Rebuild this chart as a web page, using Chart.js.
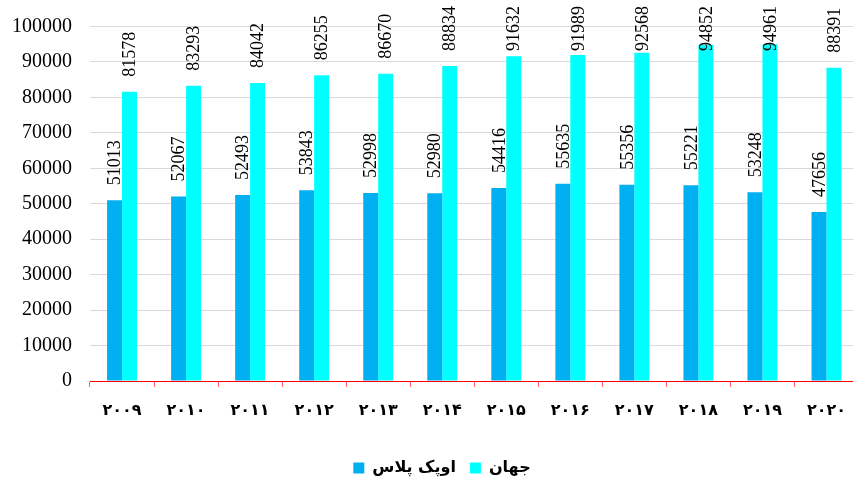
<!DOCTYPE html>
<html>
<head>
<meta charset="utf-8">
<script src="https://cdn.jsdelivr.net/npm/chart.js@4/dist/chart.umd.min.js"></script>
<style>
  html, body { margin: 0; padding: 0; background: #ffffff; overflow: hidden; }
  #wrap { width: 853px; height: 479px; overflow: hidden; }
  #c { display: block; }
</style>
</head>
<body>
<div id="wrap"><canvas id="c" width="860" height="479"></canvas></div>
<script>
// Years shown on the category axis (Persian digits)
const years = ['۲۰۰۹', '۲۰۱۰', '۲۰۱۱', '۲۰۱۲', '۲۰۱۳', '۲۰۱۴', '۲۰۱۵', '۲۰۱۶', '۲۰۱۷', '۲۰۱۸', '۲۰۱۹', '۲۰۲۰'];

// Series names
const opecPlusName = 'اوپک پلاس';
const worldName = 'جهان';

// Series values
const opecPlus = [51013, 52067, 52493, 53843, 52998, 52980, 54416, 55635, 55356, 55221, 53248, 47656];
const world = [81578, 83293, 84042, 86255, 86670, 88834, 91632, 91989, 92568, 94852, 94961, 88391];

// Value axis
const yMin = 0;
const yMax = 100000;
const yStep = 10000;

// Vertical value labels above each bar, kept inside the canvas at the top
const barValueLabels = {
  id: 'barValueLabels',
  afterDatasetsDraw(chart) {
    const ctx = chart.ctx;
    ctx.save();
    ctx.font = '18px "Liberation Serif"';
    ctx.fillStyle = '#000000';
    ctx.textAlign = 'left';
    ctx.textBaseline = 'middle';
    chart.data.datasets.forEach((ds, di) => {
      const meta = chart.getDatasetMeta(di);
      meta.data.forEach((bar, i) => {
        const text = String(ds.data[i]);
        const w = ctx.measureText(text).width;
        let bottom = bar.y - 15;
        if (bottom - w < 6) bottom = 6 + w;
        ctx.save();
        ctx.translate(bar.x, bottom);
        ctx.rotate(-Math.PI / 2);
        ctx.fillText(text, 0, 1);
        ctx.restore();
      });
    });
    ctx.restore();
  }
};

// Nudge the legend box a little lower and to the right
const legendOffset = {
  id: 'legendOffset',
  afterLayout(chart) {
    const lg = chart.legend;
    if (!lg) return;
    const dx = 12, dy = 7;
    lg.left += dx; lg.right += dx;
    lg.top += dy; lg.bottom += dy;
  }
};

new Chart(document.getElementById('c'), {
  type: 'bar',
  data: {
    labels: years,
    datasets: [
      {
        label: opecPlusName,
        data: opecPlus,
        backgroundColor: '#00b0f0',
        categoryPercentage: 0.467,
        barPercentage: 1.0
      },
      {
        label: worldName,
        data: world,
        backgroundColor: '#00ffff',
        categoryPercentage: 0.467,
        barPercentage: 1.0
      }
    ]
  },
  options: {
    responsive: false,
    animation: false,
    devicePixelRatio: 1,
    layout: { padding: { left: 0, right: 0, top: 10, bottom: 0 } },
    plugins: {
      legend: {
        position: 'bottom',
        labels: {
          boxWidth: 11,
          boxHeight: 11,
          padding: 14,
          color: '#000000',
          font: { family: '"DejaVu Sans"', size: 16, weight: 'bold' }
        }
      },
      tooltip: { enabled: false }
    },
    scales: {
      x: {
        afterFit(scale) { scale.height = 58; },
        grid: {
          display: true,
          offset: true,
          drawOnChartArea: false,
          drawTicks: true,
          tickLength: 6,
          color: '#ff6060',
          lineWidth: 1
        },
        border: {
          display: true,
          color: '#ff0000',
          width: 1,
          dash: [7, 3, 2, 3]
        },
        ticks: {
          color: '#000000',
          padding: 14,
          maxRotation: 0,
          font: { family: '"DejaVu Sans"', size: 16, weight: 'bold' }
        }
      },
      y: {
        min: yMin,
        max: yMax,
        afterFit(scale) { scale.width = 90; },
        grid: {
          color: '#d9d9d9',
          lineWidth: 1,
          drawTicks: false
        },
        border: { display: false },
        ticks: {
          stepSize: yStep,
          padding: 18,
          color: '#000000',
          font: { family: '"Liberation Serif"', size: 20, lineHeight: 0.85 },
          callback: (v) => String(v)
        }
      }
    }
  },
  plugins: [barValueLabels, legendOffset]
});
</script>
</body>
</html>
